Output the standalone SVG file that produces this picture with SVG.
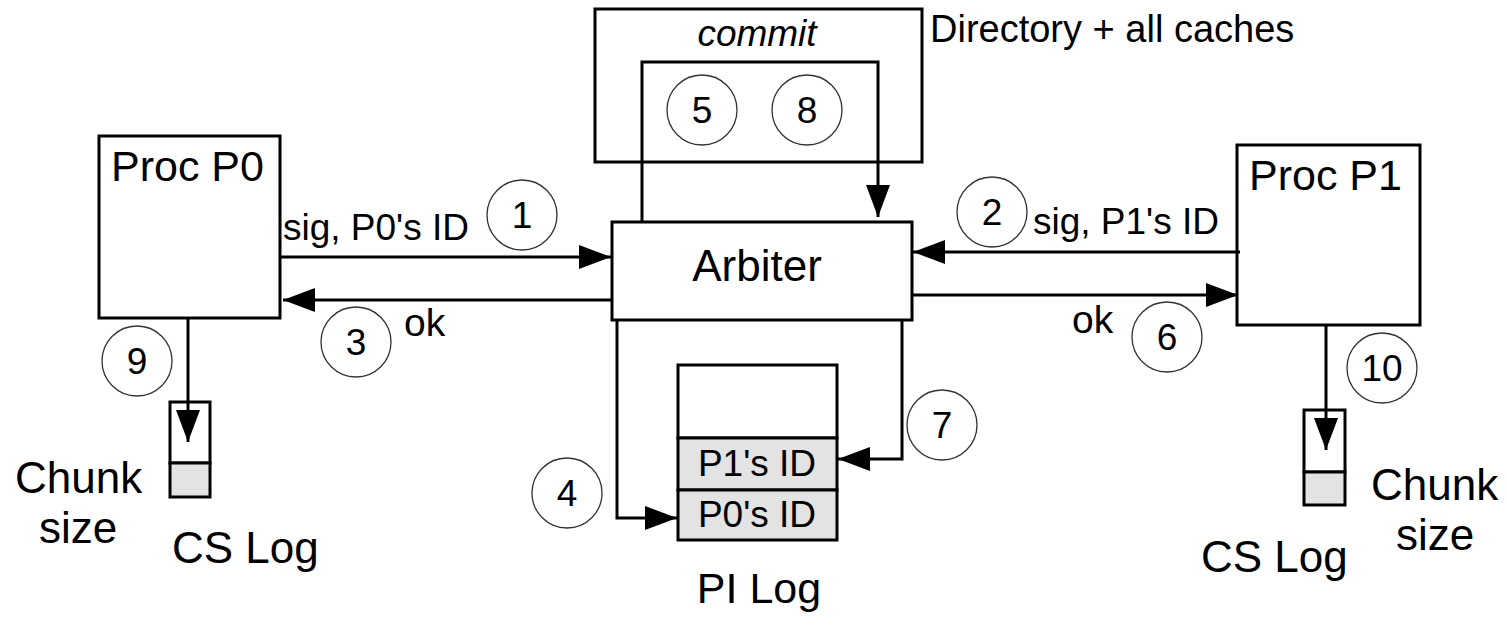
<svg xmlns="http://www.w3.org/2000/svg" width="1506" height="620" viewBox="0 0 1506 620">
<style>
text{font-family:"Liberation Sans",Arial,sans-serif;font-size:37px;fill:#000}
.big{font-size:44px}
.box{fill:#fff;stroke:#000;stroke-width:3}
.gray{fill:#e3e3e3;stroke:#000;stroke-width:3}
.ln{fill:none;stroke:#000;stroke-width:3}
.num{fill:none;stroke:#333;stroke-width:1.3}
.c{text-anchor:middle}
</style>
<defs>
<marker id="ah" markerUnits="userSpaceOnUse" markerWidth="32" markerHeight="24" viewBox="0 0 32 24" refX="32" refY="12" orient="auto">
<path d="M0,0 L32,12 L0,24 Z" fill="#000"/>
</marker>
</defs>
<g id="commit">
<rect class="box" x="595" y="9" width="327" height="153"/>
<text class="c" x="757" y="46" font-style="italic">commit</text>
<text x="930" y="42" style="font-size:38px">Directory + all caches</text>
</g>
<g id="proc-p0">
<rect class="box" x="99" y="136" width="181" height="182"/>
<text x="111" y="181" style="font-size:43px">Proc P0</text>
</g>
<g id="proc-p1">
<rect class="box" x="1237" y="145" width="183" height="180"/>
<text x="1249" y="190" style="font-size:43px">Proc P1</text>
</g>
<g id="arbiter">
<rect class="box" x="612" y="222" width="300" height="98"/>
<text class="c big" x="757" y="281">Arbiter</text>
</g>
<g id="pi-log">
<rect class="box" x="678" y="365" width="159" height="73"/>
<rect class="gray" x="678" y="438" width="159" height="52"/>
<rect class="gray" x="678" y="490" width="159" height="50"/>
<text class="c" x="757" y="476">P1's ID</text>
<text class="c" x="757" y="527">P0's ID</text>
<text class="c" x="759" y="603" style="font-size:43px">PI Log</text>
</g>
<g id="cs-log-p0">
<rect class="box" x="170" y="402" width="40" height="61"/>
<rect class="gray" x="170" y="463" width="40" height="34"/>
<text class="big" x="15" y="493">Chunk</text>
<text class="big" x="39" y="543">size</text>
<text class="big" x="172" y="563">CS Log</text>
</g>
<g id="cs-log-p1">
<rect class="box" x="1304" y="410" width="41" height="62"/>
<rect class="gray" x="1304" y="472" width="41" height="33"/>
<text class="big" x="1371" y="500">Chunk</text>
<text class="big" x="1396" y="550">size</text>
<text class="big" x="1201" y="572">CS Log</text>
</g>
<g id="step-labels">
<circle class="num" cx="522" cy="215" r="35"/><text class="c" x="522" y="228">1</text>
<circle class="num" cx="992" cy="212" r="35"/><text class="c" x="992" y="225">2</text>
<circle class="num" cx="356" cy="342" r="35"/><text class="c" x="356" y="355">3</text>
<circle class="num" cx="567" cy="493" r="35"/><text class="c" x="567" y="506">4</text>
<circle class="num" cx="702" cy="110" r="35"/><text class="c" x="702" y="123">5</text>
<circle class="num" cx="807" cy="110" r="35"/><text class="c" x="807" y="123">8</text>
<circle class="num" cx="1167" cy="337" r="35"/><text class="c" x="1167" y="350">6</text>
<circle class="num" cx="942" cy="425" r="35"/><text class="c" x="942" y="438">7</text>
<circle class="num" cx="137" cy="361" r="35"/><text class="c" x="137" y="374">9</text>
<circle class="num" cx="1382" cy="368" r="35"/><text class="c" x="1382" y="381">10</text>
</g>
<g id="edge-labels">
<text x="283" y="240">sig, P0's ID</text>
<text x="404" y="336" style="font-size:39px">ok</text>
<text x="1033" y="234">sig, P1's ID</text>
<text x="1072" y="333" style="font-size:39px">ok</text>
</g>
<g id="connectors">
<path class="ln" d="M280,257 H611" marker-end="url(#ah)"/>
<path class="ln" d="M612,300 H283" marker-end="url(#ah)"/>
<path class="ln" d="M1240,252 H913" marker-end="url(#ah)"/>
<path class="ln" d="M912,295 H1238" marker-end="url(#ah)"/>
<path class="ln" d="M642,222 V62 H878 V217" marker-end="url(#ah)"/>
<path class="ln" d="M617,320 V518 H677" marker-end="url(#ah)"/>
<path class="ln" d="M902,320 V459 H838" marker-end="url(#ah)"/>
<path class="ln" d="M188,318 V442" marker-end="url(#ah)"/>
<path class="ln" d="M1326,325 V450" marker-end="url(#ah)"/>
</g>
</svg>
